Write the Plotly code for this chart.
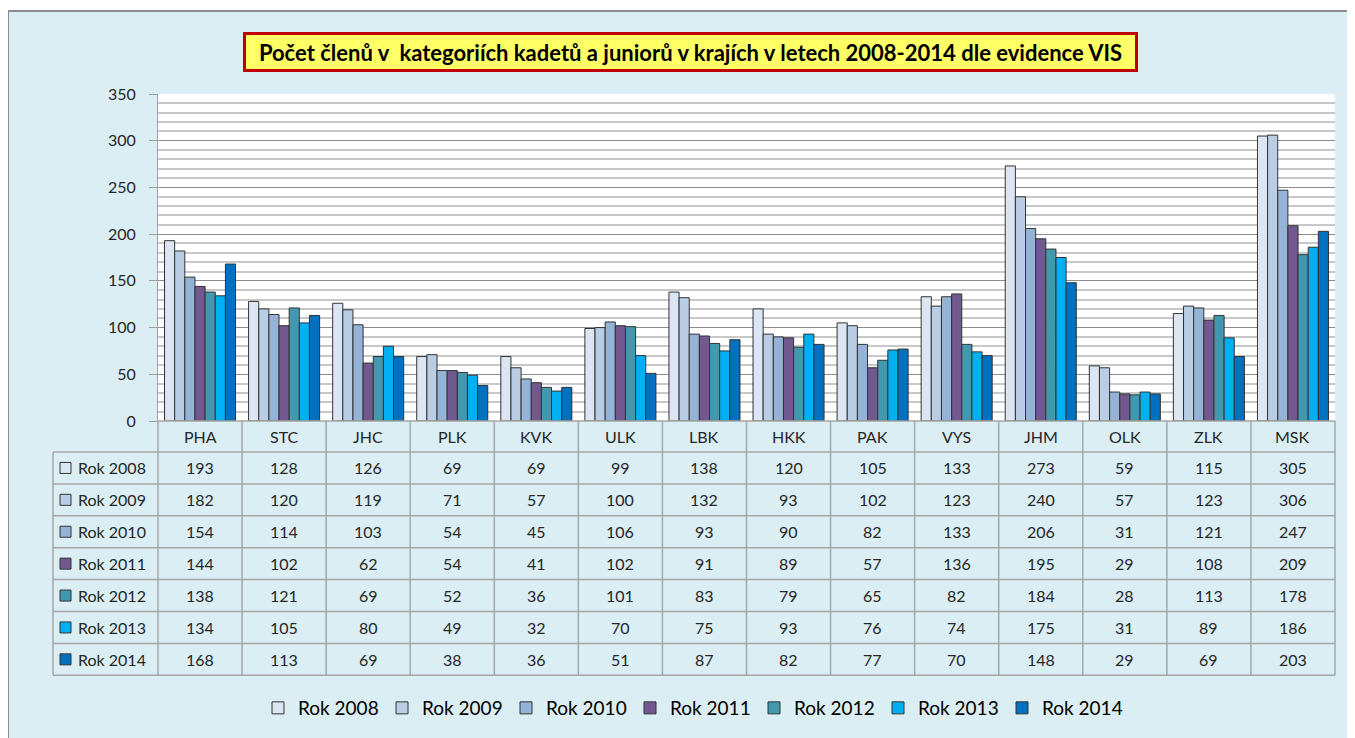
import plotly.graph_objects as go

categories = ["PHA", "STC", "JHC", "PLK", "KVK", "ULK", "LBK", "HKK", "PAK", "VYS", "JHM", "OLK", "ZLK", "MSK"]
series_names = ["Rok 2008", "Rok 2009", "Rok 2010", "Rok 2011", "Rok 2012", "Rok 2013", "Rok 2014"]
rok_2008 = [193, 128, 126, 69, 69, 99, 138, 120, 105, 133, 273, 59, 115, 305]
rok_2009 = [182, 120, 119, 71, 57, 100, 132, 93, 102, 123, 240, 57, 123, 306]
rok_2010 = [154, 114, 103, 54, 45, 106, 93, 90, 82, 133, 206, 31, 121, 247]
rok_2011 = [144, 102, 62, 54, 41, 102, 91, 89, 57, 136, 195, 29, 108, 209]
rok_2012 = [138, 121, 69, 52, 36, 101, 83, 79, 65, 82, 184, 28, 113, 178]
rok_2013 = [134, 105, 80, 49, 32, 70, 75, 93, 76, 74, 175, 31, 89, 186]
rok_2014 = [168, 113, 69, 38, 36, 51, 87, 82, 77, 70, 148, 29, 69, 203]
series_values = [rok_2008, rok_2009, rok_2010, rok_2011, rok_2012, rok_2013, rok_2014]
colors = ["#DCE6F2", "#B9CDE5", "#95B3D7", "#71588F", "#4198AF", "#00B0F0", "#0070C0"]
title_text = "Počet členů v\u00a0 kategoriích kadetů a juniorů v krajích v letech 2008-2014 dle evidence VIS"

W, H = 1355, 738
OFF = 8  # page body margin
PLOT_L, PLOT_R, PLOT_T, PLOT_B = 158, 1335, 94, 421  # target positions on the page
L = PLOT_L - OFF
T = PLOT_T - OFF
R = W - (PLOT_R - OFF)
B = H - (PLOT_B - OFF)
PW = PLOT_R - PLOT_L
PH = PLOT_B - PLOT_T
FONT = "Lato, 'Open Sans', sans-serif"
GRID = "#A6A6A6"
TXT = "#262626"


def px_x(px):
    return (px - PLOT_L) / PW


def px_y(py):
    return (PLOT_B - py) / PH


fig = go.Figure()
for name, vals, col in zip(series_names, series_values, colors):
    fig.add_trace(go.Bar(x=categories, y=vals, name=name,
                         marker=dict(color=col, line=dict(color="#333333", width=1))))

shapes = []
# outer chart area
shapes.append(dict(type="rect", xref="paper", yref="paper", x0=px_x(8), x1=px_x(1375),
                   y0=px_y(11), y1=px_y(760), fillcolor="#DBEEF4",
                   line=dict(color="#8C8C8C", width=2), layer="below"))
# plot area white
shapes.append(dict(type="rect", xref="paper", yref="paper", x0=0, x1=1, y0=0, y1=1,
                   fillcolor="white", line=dict(width=0), layer="below"))

# table geometry
header_top = PLOT_B
header_bot = 452
row_h = 31.9
n_rows = len(series_names)
table_bot = header_bot + n_rows * row_h
left_col = 53

shapes.append(dict(type="line", xref="paper", yref="paper", x0=0, x1=1,
                   y0=px_y(header_top), y1=px_y(header_top), line=dict(color=GRID, width=1.5)))
for r in range(n_rows + 1):
    yy = header_bot + r * row_h
    shapes.append(dict(type="line", xref="paper", yref="paper", x0=px_x(left_col), x1=1,
                       y0=px_y(yy), y1=px_y(yy), line=dict(color=GRID, width=1.5)))
for i in range(len(categories) + 1):
    xx = i / len(categories)
    shapes.append(dict(type="line", xref="paper", yref="paper", x0=xx, x1=xx,
                       y0=px_y(header_top), y1=px_y(table_bot), line=dict(color=GRID, width=1.5)))
shapes.append(dict(type="line", xref="paper", yref="paper", x0=px_x(left_col), x1=px_x(left_col),
                   y0=px_y(header_bot), y1=px_y(table_bot), line=dict(color=GRID, width=1.5)))

annotations = []
for c in categories:
    annotations.append(dict(x=c, xref="x", xanchor="center", y=px_y((header_top + header_bot) / 2),
                            yref="paper", yanchor="middle", text=c, showarrow=False,
                            font=dict(family=FONT, size=16, color=TXT)))
for r, (name, vals, col) in enumerate(zip(series_names, series_values, colors)):
    yc = header_bot + (r + 0.5) * row_h
    for c, v in zip(categories, vals):
        annotations.append(dict(x=c, xref="x", xanchor="center", y=px_y(yc), yref="paper",
                                yanchor="middle", text=str(v), showarrow=False,
                                font=dict(family=FONT, size=16, color=TXT)))
    annotations.append(dict(x=px_x(76), xref="paper", xanchor="left", y=px_y(yc), yref="paper",
                            yanchor="middle", text=name, showarrow=False,
                            font=dict(family=FONT, size=16, color=TXT)))
    shapes.append(dict(type="rect", xref="paper", yref="paper", x0=px_x(60), x1=px_x(71),
                       y0=px_y(yc - 5.5), y1=px_y(yc + 5.5), fillcolor=col,
                       line=dict(color="#333333", width=1)))

# title
annotations.append(dict(x=px_x(690.5), xref="paper", xanchor="center", y=px_y(52), yref="paper",
                        yanchor="middle", text="<b>" + title_text + "</b>",
                        showarrow=False, font=dict(family=FONT, size=22, color="black"),
                        bgcolor="#FFFF66", bordercolor="#C00000", borderwidth=3, borderpad=1,
                        width=887, height=32))

fig.update_layout(
    width=W, height=H,
    margin=dict(l=L, r=R, t=T, b=B, pad=0),
    paper_bgcolor="white", plot_bgcolor="rgba(0,0,0,0)",
    barmode="group", bargap=0.155, bargroupgap=0,
    font=dict(family=FONT, color=TXT),
    shapes=shapes, annotations=annotations,
    legend=dict(orientation="h", x=px_x(692), xanchor="center", y=px_y(708), yanchor="middle",
                font=dict(family=FONT, size=19, color="black"), bgcolor="rgba(0,0,0,0)",
                entrywidth=79, entrywidthmode="pixels", itemwidth=30, tracegroupgap=0),
    xaxis=dict(range=[-0.5, len(categories) - 0.5], showticklabels=False, showgrid=False,
               zeroline=False, showline=False, fixedrange=True),
    yaxis=dict(range=[0, 350], dtick=50, tick0=0, showgrid=True, gridcolor="#8C8C8C", gridwidth=1,
               zeroline=False, showline=True, linecolor="#A0A0A0", linewidth=1,
               ticks="outside", ticklen=8, tickcolor="#A0A0A0", ticklabelstandoff=10,
               tickfont=dict(family=FONT, size=16, color=TXT),
               minor=dict(dtick=10, showgrid=True, gridcolor="#C8C8C8", gridwidth=1.5),
               fixedrange=True),
)

fig.write_html("out.html")
